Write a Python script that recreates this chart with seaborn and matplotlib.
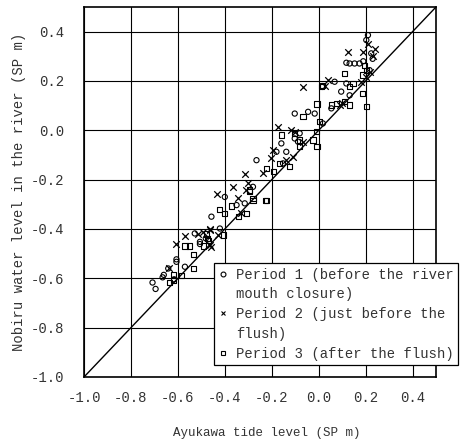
import matplotlib
matplotlib.use('Agg')
import matplotlib.pyplot as plt
from matplotlib.lines import Line2D
import seaborn as sns

# Period 1 (before the river mouth closure)
p1_tide = [-0.708, -0.695, -0.665, -0.660, -0.641, -0.616, -0.606, -0.606, -0.570, -0.528,
           -0.506, -0.506, -0.481, -0.457, -0.421, -0.400, -0.350, -0.315, -0.280, -0.265,
           -0.180, -0.159, -0.152, -0.138, -0.102, -0.102, -0.088, -0.081, -0.045, -0.017,
           0.018, 0.054, 0.068, 0.096, 0.118, 0.118, 0.132, 0.132, 0.153, 0.174,
           0.190, 0.203, 0.210, 0.217, 0.224, 0.230]
p1_nobiru = [-0.617, -0.643, -0.596, -0.586, -0.560, -0.604, -0.523, -0.533, -0.553, -0.418,
             -0.452, -0.461, -0.438, -0.350, -0.398, -0.270, -0.303, -0.296, -0.229, -0.121,
             -0.087, -0.053, -0.134, -0.087, 0.068, -0.033, -0.046, -0.012, 0.075, 0.068,
             0.028, 0.089, 0.197, 0.157, 0.190, 0.274, 0.271, 0.142, 0.271, 0.271,
             0.280, 0.366, 0.386, 0.244, 0.312, 0.290]

# Period 2 (just before the flush)
p2_tide = [-0.637, -0.606, -0.570, -0.514, -0.495, -0.464, -0.464, -0.460, -0.464, -0.428,
           -0.433, -0.367, -0.343, -0.329, -0.315, -0.301, -0.308, -0.237, -0.201, -0.194,
           -0.173, -0.138, -0.117, -0.109, -0.102, -0.067, -0.067, 0.026, 0.040, 0.089,
           0.100, 0.125, 0.182, 0.189, 0.203, 0.210, 0.217, 0.230, 0.240]
p2_nobiru = [-0.560, -0.461, -0.427, -0.420, -0.411, -0.401, -0.405, -0.472, -0.465, -0.424,
             -0.258, -0.229, -0.276, -0.337, -0.177, -0.215, -0.242, -0.175, -0.114, -0.080,
             0.015, -0.121, 0.001, -0.107, -0.006, 0.177, -0.046, 0.179, 0.204, 0.103,
             0.110, 0.319, 0.197, 0.319, 0.218, 0.352, 0.238, 0.300, 0.330]

# Period 3 (after the flush)
p3_tide = [-0.634, -0.620, -0.620, -0.584, -0.570, -0.549, -0.535, -0.535, -0.492, -0.478,
           -0.475, -0.471, -0.424, -0.407, -0.400, -0.372, -0.343, -0.308, -0.294, -0.294,
           -0.280, -0.280, -0.226, -0.223, -0.223, -0.194, -0.166, -0.159, -0.123, -0.102,
           -0.081, -0.081, -0.067, -0.024, -0.010, -0.007, -0.007, 0.004, 0.012, 0.015,
           0.054, 0.075, 0.111, 0.111, 0.132, 0.132, 0.146, 0.186, 0.189, 0.196,
           0.203, 0.203]
p3_nobiru = [-0.617, -0.583, -0.610, -0.587, -0.469, -0.469, -0.505, -0.560, -0.469, -0.420,
             -0.440, -0.445, -0.321, -0.424, -0.337, -0.307, -0.350, -0.337, -0.249, -0.242,
             -0.283, -0.276, -0.283, -0.155, -0.283, -0.168, -0.134, -0.019, -0.148, -0.012,
             -0.039, -0.066, 0.055, -0.039, -0.006, -0.066, 0.107, 0.036, 0.179, 0.183,
             0.103, 0.109, 0.116, 0.231, 0.103, 0.177, 0.190, 0.149, 0.224, 0.264,
             0.244, 0.096]

# legend text, one entry per printed line
labels = [["Period 1 (before the river", "mouth closure)"],
          ["Period 2 (just before the", "flush)"],
          ["Period 3 (after the flush)"]]

ticks = [-1.0, -0.8, -0.6, -0.4, -0.2, 0.0, 0.2, 0.4]
tick_labels = ["-1.0", "-0.8", "-0.6", "-0.4", "-0.2", "0.0", "0.2", "0.4"]
diag = [-1.0, 0.5]

sns.set_style("white")
plt.rcParams['font.family'] = ['Liberation Mono', 'DejaVu Sans Mono']
text_color = '#333333'

fig = plt.figure(figsize=(4.61, 4.47), dpi=100)
ax = fig.add_axes([84 / 461, 1 - 377 / 447, 352 / 461, 370 / 447])

# 1:1 line
ax.plot(diag, diag, color='black', lw=1.0, zorder=2)

sns.scatterplot(x=p1_tide, y=p1_nobiru, marker='o', s=14, facecolors='none',
                edgecolor='black', linewidth=0.8, ax=ax, zorder=3)
sns.scatterplot(x=p2_tide, y=p2_nobiru, marker='x', s=22, color='black',
                linewidth=0.9, ax=ax, zorder=3)
sns.scatterplot(x=p3_tide, y=p3_nobiru, marker='s', s=14, facecolors='none',
                edgecolor='black', linewidth=0.8, ax=ax, zorder=3)

ax.set_xlim(-1.0, 0.5)
ax.set_ylim(-1.0, 0.5)
ax.set_xticks(ticks)
ax.set_xticklabels(tick_labels)
ax.set_yticks(ticks)
ax.set_yticklabels(tick_labels)
ax.tick_params(length=0, labelsize=10, labelcolor=text_color)
ax.tick_params(axis='x', pad=10)
ax.tick_params(axis='y', pad=14)
ax.grid(True, color='black', lw=0.8)
for s in ax.spines.values():
    s.set_color('black')
    s.set_linewidth(1.2)

ax.set_xlabel("Ayukawa tide level (SP m)", fontsize=9, color=text_color)
ax.xaxis.set_label_coords(0.52, -0.135)
ax.set_ylabel("Nobiru water level in the river (SP m)", fontsize=10, color=text_color, labelpad=4)

# legend: marker next to first line of each entry only
marker_kw = [dict(marker='o', markerfacecolor='none'),
             dict(marker='x'),
             dict(marker='s', markerfacecolor='none')]
handles, texts = [], []
for kw, lines in zip(marker_kw, labels):
    for i, line in enumerate(lines):
        if i == 0:
            h = Line2D([], [], linestyle='none', color='black', markeredgecolor='black',
                       markersize=3.5, markeredgewidth=0.8, **kw)
        else:
            h = Line2D([], [], linestyle='none', marker=None)
        handles.append(h)
        texts.append(line)

leg = ax.legend(handles, texts, loc='lower right', bbox_to_anchor=(458 / 461, 1 - 365 / 447),
                bbox_transform=fig.transFigure, frameon=True, fancybox=False,
                edgecolor='black', framealpha=1, fontsize=10, borderpad=0.3,
                handletextpad=0.6, handlelength=0.7, labelspacing=0.42,
                borderaxespad=0)
leg.get_frame().set_linewidth(0.9)
for t in leg.get_texts():
    t.set_color(text_color)

fig.savefig('out.png', dpi=100)
